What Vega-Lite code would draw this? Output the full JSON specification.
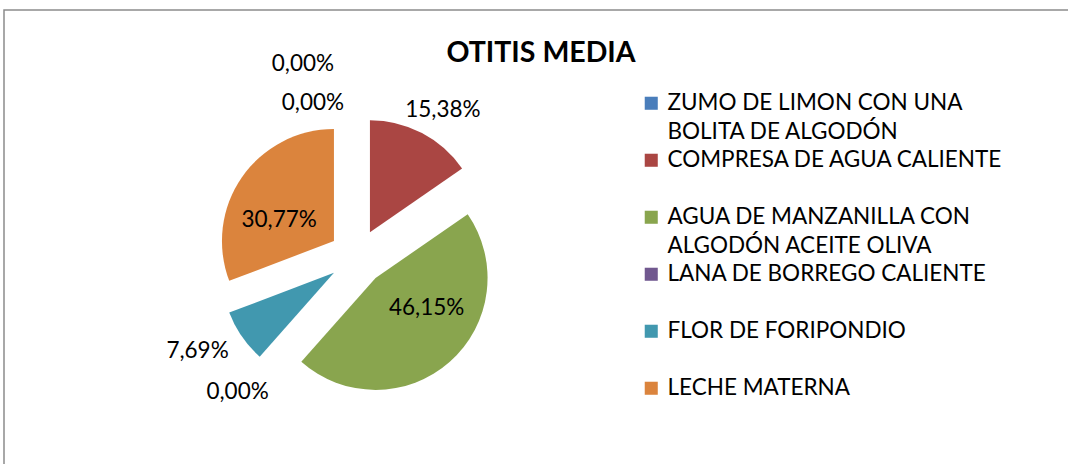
{
  "$schema": "https://vega.github.io/schema/vega-lite/v6.json",
  "width": 1068,
  "height": 464,
  "autosize": {"type": "fit", "contains": "padding"},
  "padding": {"left": 4, "top": 10, "right": -20, "bottom": -20},
  "background": "white",
  "title": {"text": "OTITIS MEDIA", "font": "Lato", "fontSize": 28.5, "fontWeight": "bold", "color": "black", "anchor": "middle", "offset": -57, "baseline": "top", "dx": -5},
  "data": {"values": [
    {"name": "ZUMO DE LIMON CON UNA BOLITA DE ALGODÓN", "value": 0, "i": 1},
    {"name": "COMPRESA DE AGUA CALIENTE", "value": 0.1538, "i": 2},
    {"name": "AGUA DE MANZANILLA CON ALGODÓN ACEITE OLIVA", "value": 0.4615, "i": 3},
    {"name": "LANA DE BORREGO CALIENTE", "value": 0, "i": 4},
    {"name": "FLOR DE FORIPONDIO", "value": 0.0769, "i": 5},
    {"name": "LECHE MATERNA", "value": 0.3077, "i": 6}
  ]},
  "encoding": {
    "x": {"datum": 0.3256, "type": "quantitative", "scale": {"domain": [0, 1]}, "axis": null},
    "y": {"datum": 0.479, "type": "quantitative", "scale": {"domain": [0, 1]}, "axis": null},
    "theta": {"field": "value", "type": "quantitative", "stack": true},
    "order": {"field": "i", "type": "quantitative"}
  },
  "layer": [
    {
      "mark": {"type": "arc", "outerRadius": 112, "xOffset": 13, "yOffset": -24.8},
      "encoding": {
        "color": {"field": "name", "type": "nominal",
          "scale": {"domain": ["ZUMO DE LIMON CON UNA BOLITA DE ALGODÓN", "COMPRESA DE AGUA CALIENTE", "AGUA DE MANZANILLA CON ALGODÓN ACEITE OLIVA", "LANA DE BORREGO CALIENTE", "FLOR DE FORIPONDIO", "LECHE MATERNA"],
                    "range": ["#4A7EBB", "#AA4643", "#89A54E", "#71588F", "#4198AF", "#DB843D"]},
          "legend": {
            "orient": "none", "legendX": 636, "legendY": 82, "title": null,
            "symbolType": "square", "symbolSize": 170, "symbolStrokeWidth": 0,
            "labelFont": "Lato", "labelFontSize": 22.5, "labelColor": "black",
            "labelLimit": 500, "labelOffset": 5, "gridAlign": "all", "rowPadding": 5,
            "labelExpr": "datum.label == 'ZUMO DE LIMON CON UNA BOLITA DE ALGODÓN' ? ['ZUMO DE LIMON CON UNA', 'BOLITA DE ALGODÓN'] : datum.label == 'AGUA DE MANZANILLA CON ALGODÓN ACEITE OLIVA' ? ['AGUA DE MANZANILLA CON', 'ALGODÓN ACEITE OLIVA'] : datum.label"
          }},
        "opacity": {"condition": {"test": "datum.i == 2", "value": 1}, "value": 0}
      }
    },
    {
      "mark": {"type": "arc", "outerRadius": 112, "xOffset": 18.6, "yOffset": 21},
      "encoding": {
        "color": {"field": "name", "type": "nominal"},
        "opacity": {"condition": {"test": "datum.i == 3", "value": 1}, "value": 0}
      }
    },
    {
      "mark": {"type": "arc", "outerRadius": 112, "xOffset": -23, "yOffset": 15.9},
      "encoding": {
        "color": {"field": "name", "type": "nominal"},
        "opacity": {"condition": {"test": "datum.i == 5", "value": 1}, "value": 0}
      }
    },
    {
      "mark": {"type": "arc", "outerRadius": 112, "xOffset": -23, "yOffset": -15.9},
      "encoding": {
        "color": {"field": "name", "type": "nominal"},
        "opacity": {"condition": {"test": "datum.i == 6", "value": 1}, "value": 0}
      }
    },
    {
      "mark": {"type": "text", "radius": 170, "font": "Lato", "fontSize": 22.5, "color": "black", "dx": 7, "dy": 4},
      "encoding": {
        "detail": {"field": "name"},
        "text": {"condition": {"test": "datum.i == 2", "field": "value", "format": ".2%"}, "value": ""}
      }
    },
    {
      "mark": {"type": "text", "radius": 87, "font": "Lato", "fontSize": 22.5, "color": "black", "dx": 12, "dy": -14},
      "encoding": {
        "detail": {"field": "name"},
        "text": {"condition": {"test": "datum.i == 3", "field": "value", "format": ".2%"}, "value": ""}
      }
    },
    {
      "mark": {"type": "text", "radius": 86, "font": "Lato", "fontSize": 22.5, "color": "black", "dx": -7, "dy": 12},
      "encoding": {
        "detail": {"field": "name"},
        "text": {"condition": {"test": "datum.i == 6", "field": "value", "format": ".2%"}, "value": ""}
      }
    },
    {
      "mark": {"type": "text", "radius": 184, "font": "Lato", "fontSize": 22.5, "color": "black", "dx": -8, "dy": -11},
      "encoding": {
        "detail": {"field": "name"},
        "text": {"condition": {"test": "datum.i == 5", "field": "value", "format": ".2%"}, "value": ""}
      }
    },
    {
      "mark": {"type": "text", "radius": 180, "font": "Lato", "fontSize": 22.5, "color": "black"},
      "encoding": {
        "detail": {"field": "name"},
        "text": {"condition": {"test": "datum.i == 4", "field": "value", "format": ".2%"}, "value": ""}
      }
    },
    {
      "mark": {"type": "text", "radius": 154, "font": "Lato", "fontSize": 22.5, "color": "black", "dx": -44},
      "encoding": {
        "detail": {"field": "name"},
        "text": {"condition": {"test": "datum.i == 1", "field": "value", "format": ".2%"}, "value": ""}
      }
    },
    {
      "mark": {"type": "text", "radius": 195, "font": "Lato", "fontSize": 22.5, "color": "black", "dx": -54, "dy": 2},
      "encoding": {
        "detail": {"field": "name"},
        "text": {"condition": {"test": "datum.i == 1", "field": "value", "format": ".2%"}, "value": ""}
      }
    }
  ],
  "config": {
    "locale": {"number": {"decimal": ",", "thousands": ".", "grouping": [3], "currency": ["", "€"]}},
    "view": {"stroke": "#8c8c8c", "strokeWidth": 1.5, "fill": "white"},
    "style": {"guide-label": {"lineHeight": 29}}
  }
}
